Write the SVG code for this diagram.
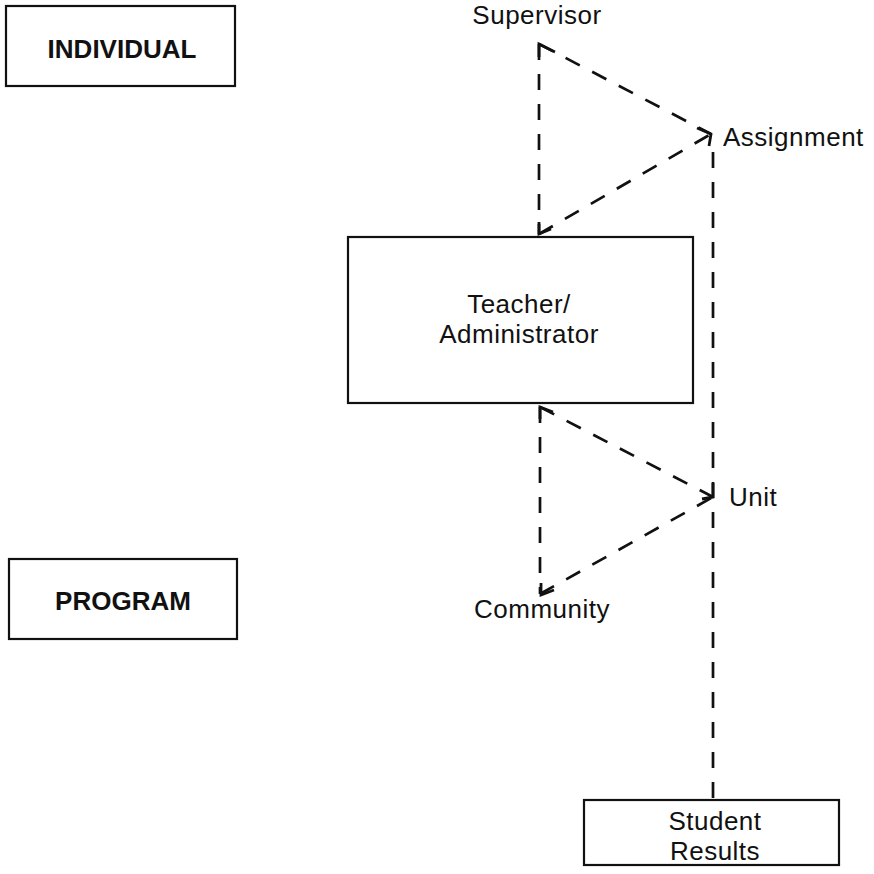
<svg xmlns="http://www.w3.org/2000/svg" width="874" height="874" viewBox="0 0 874 874">
  <style>
    .box { fill: #ffffff; stroke: #111111; stroke-width: 2.2; }
    .lbl { font-family: "Liberation Sans", Arial, Helvetica, sans-serif; font-size: 26px; letter-spacing: 0.5px; fill: #111111; }
    .hdr { font-family: "Liberation Sans", Arial, Helvetica, sans-serif; font-size: 26px; font-weight: bold; fill: #111111; }
    .dash { fill: none; stroke: #111111; stroke-width: 2.7; stroke-dasharray: 16 14; }
    .head { fill: none; stroke: #111111; stroke-width: 2.8; stroke-linejoin: miter; }
  </style>
  <rect width="874" height="874" fill="#ffffff"/>

  <!-- level headers -->
  <g id="individual">
    <rect class="box" x="6" y="6" width="229" height="80"/>
    <text class="hdr" x="122" y="58" text-anchor="middle">INDIVIDUAL</text>
  </g>
  <g id="program">
    <rect class="box" x="9" y="559" width="228" height="80"/>
    <text class="hdr" x="123" y="610" text-anchor="middle">PROGRAM</text>
  </g>

  <!-- central actor -->
  <g id="teacher">
    <rect class="box" x="348" y="237" width="345" height="166"/>
    <text class="lbl" x="519" y="313" text-anchor="middle">Teacher/</text>
    <text class="lbl" x="519" y="343" text-anchor="middle">Administrator</text>
  </g>

  <!-- point labels -->
  <g id="supervisor">
    <text class="lbl" x="537" y="24" text-anchor="middle">Supervisor</text>
  </g>
  <g id="assignment">
    <text class="lbl" x="723" y="146">Assignment</text>
  </g>
  <g id="unit">
    <text class="lbl" x="729" y="506">Unit</text>
  </g>
  <g id="community">
    <text class="lbl" x="542" y="618" text-anchor="middle">Community</text>
  </g>

  <g id="student-results">
    <rect class="box" x="584" y="800" width="255" height="65"/>
    <text class="lbl" x="715" y="830" text-anchor="middle">Student</text>
    <text class="lbl" x="715" y="860" text-anchor="middle">Results</text>
  </g>

  <!-- dashed connectors -->
  <g id="connectors">
    <!-- upper loop: supervisor / assignment / teacher -->
    <path class="dash" d="M539,44 L539,234"/>
    <path class="dash" d="M539,44 L711,134"/>
    <path class="dash" d="M539,234 L711,134"/>
    <path class="head" d="M555,52 L539,44 L539,57"/>
    <path class="head" d="M697,128 L711,134 L709,146"/>
    <path class="head" d="M539,222 L539,234 L551,229"/>

    <!-- lower loop: teacher / unit / community -->
    <path class="dash" d="M540,407 L540,594"/>
    <path class="dash" d="M540,407 L713,497"/>
    <path class="dash" d="M540,594 L713,497"/>
    <path class="head" d="M553,412 L540,407 L540,419"/>
    <path class="head" d="M713,483 L713,497 L702,499"/>
    <path class="head" d="M541,583 L541,595 L554,590"/>

    <!-- assignment to student results -->
    <path class="dash" d="M713,152 L713,800"/>
  </g>
</svg>
